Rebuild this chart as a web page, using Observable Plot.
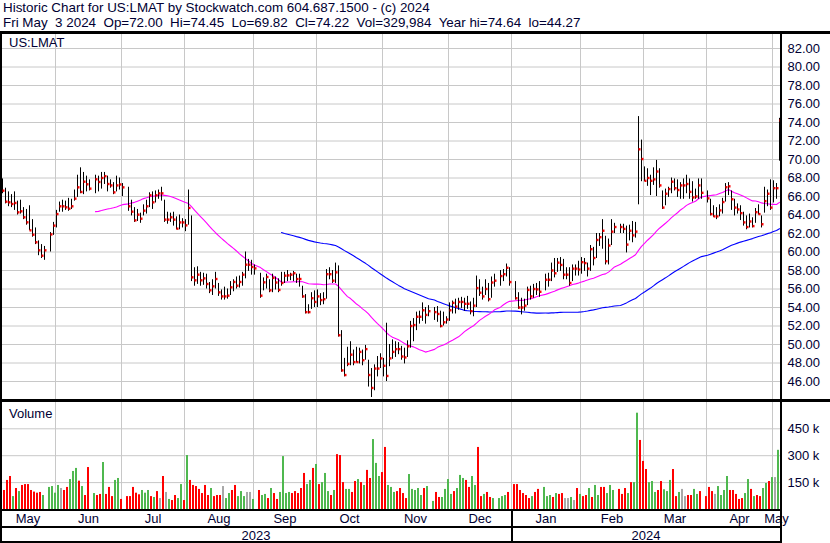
<!DOCTYPE html>
<html><head><meta charset="utf-8">
<script src="https://cdn.jsdelivr.net/npm/d3@7"></script>
<script src="https://cdn.jsdelivr.net/npm/@observablehq/plot@0.6"></script>
<style>
body{margin:0;background:#fff;}
#root{position:relative;width:830px;height:543px;overflow:hidden;font-family:"Liberation Sans",Arial,sans-serif;color:#000033;font-size:13px;background:#fff;}
.t{position:absolute;white-space:pre;line-height:14px;font-size:13px;}
.h{font-size:13.4px;}
.b{position:absolute;background:#000;z-index:5;}
.p{position:absolute;left:0;}
</style></head><body><div id="root">
<div class="t h" style="left:3px;top:1px">Historic Chart for US:LMAT by Stockwatch.com 604.687.1500 - (c) 2024</div>
<div class="t h" style="left:3px;top:16px">Fri May  3 2024  Op=72.00  Hi=74.45  Lo=69.82  Cl=74.22  Vol=329,984  Year hi=74.64  lo=44.27</div>
<div id="price" class="p" style="top:34px"></div>
<div id="vol" class="p" style="top:402px"></div>
<div class="t" style="left:9px;top:36px;z-index:6">US:LMAT</div>
<div class="t" style="left:9px;top:407px;z-index:6">Volume</div>
<div class="b" style="left:0;top:31px;width:830px;height:3px"></div>
<div class="b" style="left:0;top:31px;width:2px;height:512px"></div>
<div class="b" style="left:780px;top:31px;width:2px;height:512px"></div>
<div class="b" style="left:0;top:399px;width:830px;height:3px"></div>
<div class="b" style="left:0;top:509px;width:782px;height:2px"></div>
<div class="b" style="left:0;top:526px;width:782px;height:2px"></div>
<div class="b" style="left:0;top:541px;width:782px;height:2px"></div>
<div class="b" style="left:511px;top:509px;width:2px;height:34px"></div>
</div>
<script>
// ---- data: one slot per weekday, May 8 2023 .. May 3 2024 (null = market holiday)
const close = [
66.63,65.44,65.37,65.19,65.30,64.29,64.40,63.75,63.21,62.34,
61.87,61.05,60.18,59.60,60.18,null,61.90,62.85,64.10,64.94,
64.94,64.83,64.68,64.94,65.77,66.99,66.49,67.60,67.32,66.85,
null,67.86,67.57,68.00,68.20,67.35,67.20,66.45,67.20,67.30,
66.99,null,64.94,64.36,63.42,64.04,63.60,64.47,64.94,66.13,
65.37,66.13,66.34,66.34,63.50,63.50,63.75,63.50,62.52,63.20,
63.20,62.88,64.76,57.26,56.94,57.55,56.94,57.15,56.54,55.86,
56.29,57.08,55.64,55.20,55.20,55.28,56.18,56.76,56.36,56.76,
57.55,58.63,58.63,58.38,58.23,null,55.28,56.72,57.30,55.86,
57.20,56.70,55.90,56.65,57.44,57.47,57.55,57.70,57.08,57.08,
55.20,53.50,53.50,55.00,54.60,55.20,54.80,54.90,57.60,57.60,
56.90,57.80,51.00,47.20,46.70,47.90,48.90,48.10,48.10,49.20,
48.30,49.50,46.70,45.30,47.40,47.40,48.50,47.70,46.60,48.50,
49.20,49.50,49.50,48.70,48.60,49.80,52.00,52.10,53.00,53.00,
53.70,53.20,53.60,null,53.50,53.30,52.00,52.40,52.70,53.70,
54.50,54.10,54.60,54.60,54.40,54.40,53.60,54.20,56.10,55.60,
55.20,56.00,54.90,56.70,56.90,null,57.40,57.60,58.30,56.75,
null,55.00,54.00,54.00,54.20,55.90,55.20,56.00,55.96,55.70,
null,57.00,57.00,58.00,57.70,58.85,58.60,57.55,57.55,56.65,
58.20,58.20,58.10,58.90,58.80,58.20,60.30,59.35,61.30,61.60,
62.30,59.00,60.70,62.20,62.70,null,62.70,62.50,60.80,62.30,
61.80,62.20,71.10,70.05,67.70,68.00,67.70,67.85,68.70,67.20,
64.80,66.30,66.80,67.60,66.90,66.70,67.20,67.20,67.35,66.50,
65.90,66.00,67.20,66.40,null,65.80,64.10,63.85,63.85,64.50,
65.40,67.00,67.10,65.70,64.80,64.60,64.20,63.20,62.70,63.30,
62.80,64.30,64.10,63.00,65.50,66.30,64.80,66.90,66.90,74.22];

const high = [
67.9,66.9,66.5,66.2,66.5,65.5,65.6,64.8,64.6,65.0,
63.5,62.6,61.2,60.8,60.6,null,62.1,63.2,64.5,65.4,
65.6,65.5,65.8,65.7,66.7,68.3,69.1,68.6,68.2,67.8,
null,68.3,68.2,68.6,68.6,68.2,67.8,67.5,68.2,68.0,
67.4,null,67.0,65.6,64.8,64.6,64.2,65.1,65.6,66.4,
66.5,66.6,66.7,67.0,65.6,64.3,64.2,64.3,63.8,64.0,
63.6,63.5,66.7,63.9,58.3,58.4,57.8,57.7,57.6,56.7,
57.0,57.8,56.6,55.9,56.2,56.0,56.8,57.0,57.3,57.4,
57.8,60.0,59.2,59.1,58.6,null,57.7,57.2,57.6,57.0,
57.6,57.3,57.1,57.8,57.8,58.0,57.7,57.9,57.6,57.6,
56.3,55.4,54.3,55.6,55.8,55.9,55.5,55.6,58.1,58.3,
58.0,58.8,58.5,51.5,48.5,49.7,50.3,49.4,49.7,49.6,
49.4,49.9,48.3,47.4,47.8,48.7,49.0,48.5,52.3,50.0,
50.5,50.3,50.2,49.8,49.6,50.4,52.5,52.8,53.5,53.6,
54.5,54.0,54.2,null,54.0,54.1,53.6,53.5,53.0,54.5,
54.7,54.9,55.0,55.1,55.0,55.2,54.6,55.0,57.4,57.0,
56.2,57.0,56.6,57.3,57.6,null,58.0,58.1,58.7,58.3,
null,56.8,55.6,55.0,54.9,56.2,56.3,56.5,56.6,56.8,
null,57.6,57.7,58.8,59.3,59.3,59.4,59.2,58.3,58.3,
58.6,58.6,59.0,59.4,59.3,58.8,60.7,60.5,62.0,62.0,
63.5,61.7,61.4,63.5,63.1,null,63.0,63.0,62.8,62.9,
63.3,63.2,74.64,72.1,69.2,69.0,68.3,69.1,69.9,69.0,
66.6,66.8,67.0,68.0,67.9,67.8,67.5,67.9,68.3,67.9,
67.6,66.8,67.9,67.9,null,66.6,65.7,65.0,64.8,65.1,
65.8,67.4,67.5,66.6,65.7,65.2,65.0,64.3,63.9,64.1,
63.7,64.7,65.1,63.9,67.0,66.7,67.8,67.7,67.4,74.45];

const low = [
66.3,65.2,64.9,64.8,64.5,64.0,64.1,63.5,62.9,62.3,
61.6,60.8,59.6,59.3,59.1,null,60.0,61.8,62.6,64.3,
64.3,64.5,64.4,64.6,65.5,65.9,66.3,66.2,66.5,66.6,
null,66.3,66.5,66.8,67.3,66.5,66.9,66.2,66.5,66.7,
66.0,null,64.4,63.9,63.2,63.3,63.1,63.9,64.1,64.8,
64.6,65.3,65.7,65.5,63.2,63.0,63.2,62.8,62.4,62.4,
62.6,62.2,62.9,56.8,56.3,56.5,56.3,56.4,56.0,55.5,
55.3,56.0,55.2,54.8,54.8,54.9,55.3,55.7,56.0,56.1,
56.3,57.1,57.9,57.5,57.5,null,55.0,55.8,56.0,55.6,
55.6,55.9,55.6,56.3,56.6,56.8,56.9,56.8,56.6,56.2,
55.0,53.3,53.3,53.8,54.0,54.0,54.2,54.3,54.9,57.0,
56.6,56.6,50.8,47.0,46.5,47.6,47.7,47.7,48.0,47.9,
47.7,48.3,45.4,44.27,45.0,46.5,47.4,46.5,46.0,47.6,
48.4,48.6,48.9,48.3,47.9,48.6,49.6,50.3,51.5,52.2,
52.5,52.2,53.0,null,52.6,52.4,51.8,52.0,52.2,52.5,
53.3,53.3,53.7,53.9,53.6,53.8,53.2,53.0,54.0,55.2,
54.8,55.3,54.6,55.0,56.2,null,56.3,56.8,57.3,56.3,
null,54.8,53.8,53.2,53.6,54.2,54.8,55.0,55.3,55.1,
null,55.8,56.2,56.8,57.2,57.8,57.9,57.0,57.0,56.3,
56.8,57.4,57.4,57.6,57.9,57.3,57.9,58.5,59.3,60.6,
60.3,58.6,58.6,60.7,62.0,null,62.0,62.0,59.9,61.2,
61.0,61.5,65.1,67.6,67.6,67.1,66.1,67.2,66.0,66.9,
64.6,65.0,65.9,66.3,66.6,65.9,65.7,65.7,66.3,65.7,
65.4,65.7,65.7,65.7,null,65.3,63.9,63.75,63.5,63.8,
64.1,65.4,66.1,64.5,63.9,64.1,63.4,62.8,62.4,62.6,
62.6,63.1,64.0,62.6,64.2,64.9,64.5,65.3,65.7,69.82];

// volume in thousands of shares
const volume = [
97,106,162,184,72,117,100,134,139,139,
106,97,91,95,78,null,123,128,91,134,
117,106,123,167,212,229,158,128,78,234,
null,89,78,84,262,84,123,72,162,173,
56,null,72,72,123,91,82,106,91,106,
72,67,100,61,184,95,56,50,78,61,
139,50,301,162,134,128,112,89,134,78,
117,72,78,78,128,61,89,106,134,72,
100,72,95,95,56,null,106,78,84,61,
117,89,56,95,295,89,95,89,100,89,
117,201,139,162,229,251,139,150,201,100,
78,106,306,301,150,112,112,95,156,167,
150,134,218,173,390,257,184,206,346,134,
123,95,100,117,89,61,195,112,106,117,
78,117,128,null,45,95,67,67,112,167,
84,100,117,190,173,162,123,184,134,346,
72,84,95,67,61,null,61,72,78,95,
null,139,139,106,89,78,61,72,95,112,
null,123,72,78,67,89,84,89,61,61,
67,50,117,84,72,78,117,67,134,78,
123,123,89,134,106,null,112,84,117,89,
150,150,537,385,268,223,150,156,95,106,
156,110,100,162,223,72,95,112,72,78,
78,112,84,100,null,72,123,100,84,128,
78,106,184,106,106,84,56,61,89,167,
112,72,78,72,117,145,156,178,178,330];

// volume bar direction: g = up, r = down, n = unchanged, _ = holiday
const volDir = (
"n r r r g r g r r r " + "r r r r g _ g g g g " + "n r r g g g r g r r " + "_ g r r g r r r g g " +
"r _ r r r r r g g g " + "r g r n r n g r r g " + "g r g r r r r r r r " + "g r r r n g g r r g " +
"g g n n g _ r g g r " + "g r r g g g g r r r " + "r r g g r g r g g g " + "r g r r r g g r r g " +
"r g r r g g g r r g " + "g g r r r r g g g g " + "g r g _ g r r g g g " + "g r g g g r r g g r " +
"r g r r g _ g g g r " + "_ r r r r r r g r r " + "_ g g g r g r r n n " + "g n r g r r g r g g " +
"r r g g g _ r r r g " + "r g g r r r g g g r " + "r g g g r r g n n r " + "r g g r _ r r r n g " +
"g g g r r r r r g g " + "r g r r g g r g n g").trim().split(" ");

const monthNames = ["May","Jun","Jul","Aug","Sep","Oct","Nov","Dec","Jan","Feb","Mar","Apr","May"];
const monthStart = [0,18,40,61,84,105,127,149,170,193,214,235,257]; // slot of 1st weekday
const yearNames = ["2023","2024"];
const yearStart = [0,170];
const priceTicks = [46,48,50,52,54,56,58,60,62,64,66,68,70,72,74,76,78,80,82];
const volTicks = [150,300,450];

// ---- derived tables
const xDomain = [-2/3, 259 + 1/3];
const bars = [];
close.forEach((c, i) => { if (c != null) bars.push({i, close: c, high: high[i], low: low[i]}); });
function sma(n) {
  const out = [];
  for (let k = n - 1; k < bars.length; k++) {
    out.push({i: bars[k].i, v: d3.mean(bars.slice(k - n + 1, k + 1), d => d.close)});
  }
  return out;
}
const ma30 = sma(30), ma90 = sma(90);
const vcol = {g: "#4fb84f", r: "#ff0000", n: "#a8a8a8"};
const vbars = [];
volume.forEach((v, i) => { if (v != null) vbars.push({i, v, c: vcol[volDir[i]]}); });
const bound = k => k === 0 ? xDomain[0] : monthStart[k] - 1/3;
const months = monthNames.map((name, k) => ({
  name, center: (bound(k) + (k === monthNames.length - 1 ? xDomain[1] : bound(k + 1))) / 2
}));
const ybound = k => k === 0 ? xDomain[0] : yearStart[k] - 1/3;
const years = yearNames.map((name, k) => ({
  name, center: (ybound(k) + (k === yearNames.length - 1 ? xDomain[1] : ybound(k + 1))) / 2
}));
const gridX = monthStart.slice(1).map(s => s - 1/3);

const font = {fontFamily: "'Liberation Sans', Arial, sans-serif", fontSize: "13px", color: "#000033", background: "transparent", overflow: "visible"};
const gridC = "#c8c8c8";

const pricePlot = Plot.plot({
  width: 830, height: 365,
  marginTop: 0, marginBottom: 0, marginLeft: 0, marginRight: 50,
  x: {domain: xDomain, range: [0, 780], axis: null},
  y: {domain: [46 - 18 / 9.25, 82 + 14 / 9.25], range: [365, 0], axis: null},
  style: font,
  marks: [
    Plot.ruleY(priceTicks, {stroke: gridC}),
    Plot.ruleX(gridX, {stroke: gridC}),
    Plot.line(ma90, {x: "i", y: "v", stroke: "#0000ff", strokeWidth: 1.1}),
    Plot.line(ma30, {x: "i", y: "v", stroke: "#ff00ff", strokeWidth: 1.1}),
    Plot.ruleX(bars, {x: "i", y1: "low", y2: "high", stroke: "#000", strokeWidth: 1}),
    Plot.ruleY(bars, {y: "close", x1: d => d.i + 1/6, x2: d => d.i + 5/6, stroke: "#ff0000", strokeWidth: 2.4}),
    Plot.axisY(priceTicks, {anchor: "right", tickSize: 0, tickPadding: 7, tickFormat: d => d.toFixed(2), label: null, fontSize: 13})
  ]
});
document.getElementById("price").appendChild(pricePlot);

const volPlot = Plot.plot({
  width: 830, height: 141,
  marginTop: 0, marginBottom: 34, marginLeft: 0, marginRight: 50,
  x: {domain: xDomain, range: [0, 780], axis: null},
  y: {domain: [0, 107 * 5.576], range: [107, 0], axis: null},
  style: font,
  marks: [
    Plot.ruleY(volTicks, {stroke: gridC}),
    Plot.ruleX(gridX, {stroke: gridC}),
    Plot.rect(vbars, {x1: d => d.i - 2/3, x2: d => d.i, y1: 0, y2: "v", fill: "c"}),
    Plot.axisY(volTicks, {anchor: "right", tickSize: 0, tickPadding: 7, tickFormat: d => d + " k", label: null, fontSize: 13}),
    Plot.text(months, {x: "center", text: "name", frameAnchor: "bottom", lineAnchor: "bottom", dy: 13.7, fontSize: 13, fill: "#000033"}),
    Plot.text(years, {x: "center", text: "name", frameAnchor: "bottom", lineAnchor: "bottom", dy: 30.3, fontSize: 13, fill: "#000033"})
  ]
});
document.getElementById("vol").appendChild(volPlot);
</script>
</body></html>
